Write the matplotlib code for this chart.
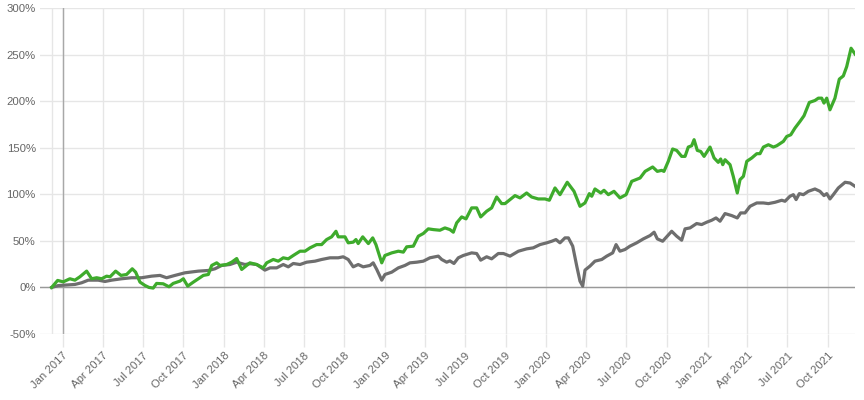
import matplotlib
matplotlib.use("Agg")
import matplotlib.pyplot as plt
import numpy as np
import pandas as pd

# ---- data (time as decimal year, values in %) ----
green_t = [2016.930, 2016.967, 2017.002, 2017.043, 2017.074, 2017.105, 2017.147, 2017.178, 2017.209, 2017.240,
           2017.271, 2017.292, 2017.327, 2017.360, 2017.395, 2017.430, 2017.451, 2017.478, 2017.509, 2017.534,
           2017.560, 2017.581, 2017.622, 2017.658, 2017.684, 2017.726, 2017.747, 2017.774, 2017.809, 2017.840,
           2017.871, 2017.902, 2017.923, 2017.954, 2017.974, 2018.016, 2018.047, 2018.078, 2018.109, 2018.129,
           2018.160, 2018.202, 2018.243, 2018.264, 2018.305, 2018.336, 2018.367, 2018.398, 2018.429, 2018.471,
           2018.502, 2018.533, 2018.574, 2018.605, 2018.636, 2018.667, 2018.694, 2018.708, 2018.750, 2018.770,
           2018.801, 2018.818, 2018.832, 2018.860, 2018.895, 2018.922, 2018.942, 2018.978, 2018.998, 2019.040,
           2019.081, 2019.112, 2019.133, 2019.174, 2019.205, 2019.236, 2019.267, 2019.298, 2019.339, 2019.370,
           2019.401, 2019.422, 2019.443, 2019.474, 2019.501, 2019.536, 2019.567, 2019.592, 2019.629, 2019.660,
           2019.691, 2019.722, 2019.743, 2019.774, 2019.805, 2019.836, 2019.877, 2019.908, 2019.949, 2019.991,
           2020.018, 2020.053, 2020.084, 2020.129, 2020.171, 2020.208, 2020.239, 2020.266, 2020.281, 2020.301,
           2020.337, 2020.357, 2020.384, 2020.419, 2020.456, 2020.494, 2020.529, 2020.581, 2020.612, 2020.659,
           2020.688, 2020.715, 2020.729, 2020.756, 2020.783, 2020.808, 2020.839, 2020.860, 2020.880, 2020.901,
           2020.916, 2020.936, 2020.957, 2020.978, 2021.015, 2021.040, 2021.066, 2021.081, 2021.094, 2021.108,
           2021.139, 2021.159, 2021.184, 2021.201, 2021.222, 2021.243, 2021.274, 2021.305, 2021.325, 2021.346,
           2021.377, 2021.408, 2021.429, 2021.470, 2021.491, 2021.516, 2021.542, 2021.573, 2021.598, 2021.631,
           2021.666, 2021.687, 2021.708, 2021.722, 2021.739, 2021.759, 2021.790, 2021.817, 2021.842, 2021.863,
           2021.890, 2021.915]
green_v = [0, 7.5, 6, 9.3, 7.8, 11.4, 17.5, 9.3, 10.4, 9.3,
           12.1, 11.4, 17.5, 12.9, 13.9, 20, 16.4, 5.7, 2.1, 0,
           -0.7, 4.3, 3.9, 0.7, 4.3, 6.8, 9.3, 1.4, 5.7, 9.3,
           12.9, 13.9, 23.6, 26.4, 23.6, 24.6, 27.1, 31, 19.3, 22.1,
           26.4, 24.6, 21, 26.4, 30, 28.2, 31.8, 30.7, 34.3, 38.9,
           38.9, 42.5, 46, 46, 51.4, 54.3, 60.3, 54.3, 54.3, 47.9,
           48.6, 51.4, 47.1, 54.3, 47.1, 53.2, 46, 26.4, 34.3, 37.1,
           38.9, 37.9, 43.6, 44.3, 55, 57.9, 62.9, 62.1, 61.4, 63.9,
           62.1, 59.3, 69.3, 75.7, 73.6, 85.4, 85.4, 75.7, 81.8, 85.4,
           97.1, 90, 90, 94.3, 98.6, 96.1, 101.4, 97.1, 95, 95,
           93.6, 106.8, 99.6, 112.9, 103.2, 87.1, 90.7, 100.7, 97.9, 105.7,
           101.4, 104.3, 99.6, 103.2, 96.1, 99.6, 113.9, 117.5, 124.6, 129.3,
           124.6, 125.7, 124.6, 135.4, 148.6, 147.1, 140.7, 140.7, 150.7, 152.1,
           158.6, 147.1, 146, 140.7, 150.7, 139, 134.3, 137.9, 131.8, 137.1,
           131.8, 119.3, 101.4, 115.7, 119.3, 135.4, 139, 143.6, 143.6, 150.7,
           153.2, 150.7, 152.1, 156.8, 162.1, 163.9, 171.1, 178.2, 184.3, 198.6,
           200.7, 203.2, 203.2, 197.9, 203.2, 190.7, 203.2, 223.6, 227.1, 237.1,
           256.8, 250.5]

grey_t = [2016.930, 2016.971, 2017.012, 2017.074, 2017.116, 2017.157, 2017.219, 2017.261, 2017.302, 2017.364,
          2017.426, 2017.488, 2017.550, 2017.602, 2017.643, 2017.695, 2017.757, 2017.840, 2017.902, 2017.943,
          2017.985, 2018.036, 2018.078, 2018.129, 2018.160, 2018.202, 2018.253, 2018.285, 2018.326, 2018.367,
          2018.398, 2018.429, 2018.471, 2018.512, 2018.564, 2018.605, 2018.657, 2018.708, 2018.739, 2018.770,
          2018.801, 2018.832, 2018.863, 2018.905, 2018.925, 2018.947, 2018.978, 2018.998, 2019.040, 2019.081,
          2019.122, 2019.153, 2019.195, 2019.236, 2019.277, 2019.329, 2019.350, 2019.381, 2019.401, 2019.426,
          2019.453, 2019.484, 2019.536, 2019.567, 2019.592, 2019.629, 2019.660, 2019.701, 2019.733, 2019.774,
          2019.826, 2019.877, 2019.918, 2019.960, 2020.002, 2020.033, 2020.059, 2020.084, 2020.115, 2020.136,
          2020.163, 2020.188, 2020.208, 2020.225, 2020.239, 2020.270, 2020.301, 2020.343, 2020.374, 2020.411,
          2020.432, 2020.456, 2020.487, 2020.518, 2020.560, 2020.601, 2020.643, 2020.668, 2020.688, 2020.721,
          2020.746, 2020.777, 2020.808, 2020.839, 2020.860, 2020.891, 2020.932, 2020.963, 2020.994, 2021.025,
          2021.052, 2021.077, 2021.108, 2021.150, 2021.184, 2021.205, 2021.232, 2021.263, 2021.305, 2021.346,
          2021.377, 2021.418, 2021.460, 2021.480, 2021.511, 2021.532, 2021.549, 2021.569, 2021.594, 2021.625,
          2021.666, 2021.697, 2021.722, 2021.739, 2021.759, 2021.780, 2021.811, 2021.853, 2021.884, 2021.915]
grey_v = [0, 2, 2.5, 3.2, 5, 7.8, 7.8, 6.4, 7.8, 9.3,
          10.4, 10.4, 12.1, 12.9, 10.4, 12.9, 15.7, 17.5, 18.2, 20,
          23.6, 24.6, 27.1, 24.6, 25.5, 24.6, 18.6, 21, 21, 24.6,
          22.1, 25.7, 24.6, 27.1, 28.2, 30, 31.8, 31.8, 32.9, 30,
          22.1, 24.6, 22.1, 23.6, 26.4, 19.3, 7.8, 13.9, 16.4, 21,
          23.6, 26.4, 27.1, 28.2, 31.8, 33.6, 30, 27.1, 28.5, 25.7,
          31.8, 34.3, 37.1, 36.4, 29.3, 32.9, 30.7, 36.4, 36.4, 33.6,
          38.9, 41.4, 42.5, 46, 47.9, 49.6, 51.4, 47.9, 53.2, 53.2,
          44.3, 22.9, 6.8, 1.4, 18.6, 22.9, 28.2, 30, 33.6, 37.1,
          46, 38.9, 40.7, 44.3, 47.9, 52.1, 55.7, 59.3, 52.1, 49.6,
          54.3, 60.3, 55, 50.7, 62.9, 63.9, 68.6, 67.5, 70, 72.1,
          74.6, 71.1, 79.3, 77.1, 74.6, 80, 80, 87.1, 90.7, 90.7,
          90, 91.4, 93.6, 92.5, 97.9, 99.6, 94.3, 100.7, 99.6, 103.2,
          105.7, 103.2, 98.6, 100.7, 95, 99.6, 106.8, 112.9, 112.1, 108.5]

y_ticks = [-50, 0, 50, 100, 150, 200, 250, 300]
x_tick_labels = ["Jan 2017", "Apr 2017", "Jul 2017", "Oct 2017", "Jan 2018", "Apr 2018", "Jul 2018",
                 "Oct 2018", "Jan 2019", "Apr 2019", "Jul 2019", "Oct 2019", "Jan 2020", "Apr 2020",
                 "Jul 2020", "Oct 2020", "Jan 2021", "Apr 2021", "Jul 2021", "Oct 2021"]


def to_dates(t):
    t = np.asarray(t, dtype=float)
    base = pd.Timestamp("2017-01-01")
    return [base + pd.Timedelta(days=float(d)) for d in (t - 2017.0) * 365.25]


GREEN = "#3eab2c"
GREY = "#6e6e6e"
GRID = "#e6e6e6"

plt.rcParams["font.family"] = ["Liberation Sans", "DejaVu Sans"]

fig = plt.figure(figsize=(8.64, 4.0), dpi=100)
ax = fig.add_axes([40 / 864, 66 / 400, 815 / 864, 326 / 400])

gd = to_dates(green_t)
rd = to_dates(grey_t)

tick_dates = list(pd.to_datetime(x_tick_labels, format="%b %Y"))

# grid
for yv in y_ticks:
    ax.axhline(yv, color=GRID, lw=1, zorder=0)
for td in tick_dates:
    ax.axvline(td, color=GRID, lw=1, zorder=0)
ax.axvline(gd[0], color=GRID, lw=1, zorder=0)
ax.axvline(tick_dates[0], color="#a8a8a8", lw=1, zorder=1)
ax.axhline(0, color="#999999", lw=1, zorder=1)

ax.plot(rd, grey_v, color=GREY, lw=2.3, zorder=3, solid_joinstyle="round")
ax.plot(gd, green_v, color=GREEN, lw=2.3, zorder=4, solid_joinstyle="round")

ax.set_ylim(-50, 300)
ax.set_xlim(pd.Timestamp("2016-11-10"), pd.Timestamp("2021-12-01"))
ax.set_yticks(y_ticks)
ax.set_yticklabels([f"{v}%" for v in y_ticks])
ax.set_xticks(tick_dates)
ax.set_xticklabels(x_tick_labels, rotation=45, ha="right", rotation_mode="anchor")

for s in ax.spines.values():
    s.set_visible(False)
ax.tick_params(axis="y", length=0, labelsize=8.2, labelcolor="#666666", pad=3)
ax.tick_params(axis="x", length=9, width=1, color=GRID, labelsize=8.2, labelcolor="#666666", pad=3)
ax.get_xticklines()[0].set_color("#a8a8a8")

fig.savefig("out.png", dpi=100)
